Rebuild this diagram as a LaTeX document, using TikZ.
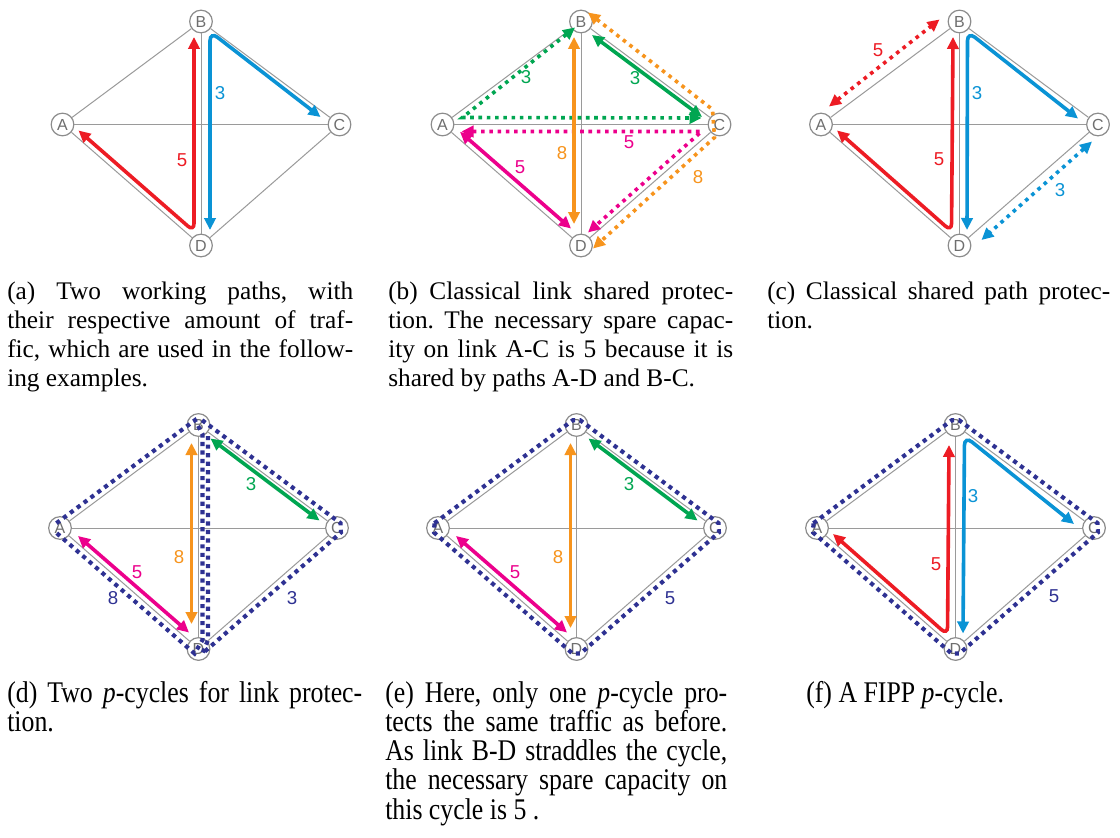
\documentclass[tikz,border=0pt]{standalone}
\usepackage{fontspec}
\setmainfont{Liberation Serif}
\newfontfamily\lsans{Liberation Sans}
\newfontfamily\condserif[FakeStretch=0.86]{Liberation Serif}
\usetikzlibrary{arrows.meta,calc}
\definecolor{edgegray}{HTML}{9A9A9A}
\definecolor{ndgray}{HTML}{8C8C8C}
\definecolor{ltrgray}{HTML}{6E6E6E}
\definecolor{cred}{HTML}{ED1C24}
\definecolor{cblue}{HTML}{0A93D5}
\definecolor{cgreen}{HTML}{00A651}
\definecolor{corange}{HTML}{F7941D}
\definecolor{cmag}{HTML}{EC008C}
\definecolor{cnavy}{HTML}{2E3192}
\tikzset{
 nd/.style={circle,draw=ndgray,fill=white,line width=0.9pt,minimum size=17pt,inner sep=0pt,text=ltrgray,font=\lsans\fontsize{12pt}{12pt}\selectfont},
 edge/.style={draw=edgegray,line width=0.75pt},
 wk/.style={line width=2.7pt},
 dt/.style={line width=2.7pt,dash pattern=on 2.7pt off 3.5pt},
 cyc/.style={draw=cnavy,line width=3.1pt,dash pattern=on 3.1pt off 3.3pt},
 lbl/.style={font=\lsans\fontsize{14pt}{14pt}\selectfont,inner sep=0pt},
 >={Triangle[length=9pt,width=8.5pt]},
 capt/.style={anchor=base west,inner sep=0pt,font=\frenchspacing\fontsize{19pt}{22pt}\selectfont},
 captb/.style={anchor=base west,inner sep=0pt,font=\frenchspacing\condserif\fontsize{22.5pt}{22pt}\selectfont},
}
\newcommand\kitegraph[1]{%
  \node[nd] (A#1) at (0,0) {A};
  \node[nd] (B#1) at (138.5,-103) {B};
  \node[nd] (C#1) at (277,0) {C};
  \node[nd] (D#1) at (138.5,121) {D};
  \draw[edge] (A#1) -- (B#1);
  \draw[edge] (B#1) -- (C#1);
  \draw[edge] (C#1) -- (D#1);
  \draw[edge] (D#1) -- (A#1);
  \draw[edge] (A#1) -- (C#1);
  \draw[edge] (B#1) -- (D#1);
}
\begin{document}
\begin{tikzpicture}[x=0.75pt,y=-0.75pt]
\useasboundingbox[fill=white] (0,0) rectangle (1120,838);

% ---------- (a)
\begin{scope}[shift={(62.5,124.5)}]
\kitegraph{1}
\draw[wk,cred,<->,rounded corners=6pt] ($(B1)+(-7,15.5)$) -- ($(D1)+(-7,-14)$) -- ($(A1)+(16,6)$);
\draw[wk,cblue,<->,rounded corners=7pt] ($(C1)+(-19,-7.5)$) -- ($(B1)+(9,10)$) -- ($(D1)+(9,-15.5)$);
\node[lbl,text=cred] (la1) at (119.5,35.5) {5};
\node[lbl,text=cblue] (lb1) at (157.5,-31.5) {3};
\end{scope}

% ---------- (b)
\begin{scope}[shift={(442.5,124.5)}]
\kitegraph{2}
\draw[wk,cgreen,<->] ($(B2)+(11,13.5)$) -- ($(C2)+(-17.5,-7.5)$);
\draw[dt,cgreen,<->] ($(B2)+(-6,6)$) -- ($(A2)+(20,-7)$) -- ($(C2)+(-18,-6.5)$);
\draw[wk,cmag,<->] ($(A2)+(17.5,7.3)$) -- ($(D2)+(-10,-17)$);
\draw[dt,cmag,<->] ($(A2)+(19,7)$) -- ($(C2)+(-18,7)$) -- ($(D2)+(7,-13)$);
\draw[wk,corange,<->] ($(B2)+(-7,15.5)$) -- ($(D2)+(-7,-21.5)$);
\draw[dt,corange,<->] ($(B2)+(7,-9)$) -- ($(C2)+(-7,-15)$) -- ($(C2)+(-5,13)$) -- ($(D2)+(12,3)$);
\node[lbl,text=cgreen] (lc2) at (83.5,-47.5) {3};
\node[lbl,text=cgreen] (ld2) at (192.5,-46.5) {3};
\node[lbl,text=cmag] (le2) at (77.5,42.5) {5};
\node[lbl,text=cmag] (lf2) at (186.5,17.5) {5};
\node[lbl,text=corange] (lg2) at (119.5,28.5) {8};
\node[lbl,text=corange] (lh2) at (255.5,52.5) {8};
\end{scope}

% ---------- (c)
\begin{scope}[shift={(821,124.5)}]
\kitegraph{3}
\draw[wk,cred,<->,rounded corners=6pt] ($(B3)+(-6.5,15.5)$) -- ($(D3)+(-8,-14)$) -- ($(A3)+(16,6)$);
\draw[wk,cblue,<->,rounded corners=7pt] ($(C3)+(-20,-6)$) -- ($(B3)+(8,10)$) -- ($(D3)+(7.5,-15.5)$);
\draw[dt,cred,<->] ($(A3)+(8,-18)$) -- ($(B3)+(-20,-2)$);
\draw[dt,cblue,<->] ($(C3)+(-6,17)$) -- ($(D3)+(22,-5.5)$);
\node[lbl,text=cred] (la3) at (57,-74.5) {5};
\node[lbl,text=cred] (lb3) at (118,34.5) {5};
\node[lbl,text=cblue] (lc3) at (156,-31.5) {3};
\node[lbl,text=cblue] (ld3) at (239,65.5) {3};
\end{scope}

% ---------- (d)
\begin{scope}[shift={(60,528)}]
\kitegraph{4}
\draw[wk,cgreen,<->] ($(B4)+(12,13.5)$) -- ($(C4)+(-17.5,-7.5)$);
\draw[wk,cmag,<->] ($(A4)+(18,8)$) -- ($(D4)+(-9.5,-16.5)$);
\draw[wk,corange,<->] ($(B4)+(-7,18)$) -- ($(D4)+(-7,-25)$);
\draw[cyc] ($(A4)!4.5pt!90:(B4)$) -- ($(B4)!4.5pt!-90:(A4)$) -- ($(B4)+(4,9)$) -- ($(D4)+(4,-9)$) -- ($(D4)!4.5pt!90:(A4)$) -- ($(A4)!4.5pt!-90:(D4)$);
\draw[cyc] ($(B4)!4.5pt!90:(C4)$) -- ($(C4)!4.5pt!-90:(B4)$) -- ($(C4)!4.5pt!90:(D4)$) -- ($(D4)!4.5pt!-90:(C4)$) -- ($(D4)+(9.5,-9)$) -- ($(B4)+(9.5,9)$);
\node[lbl,text=cgreen] (la4) at (191,-44) {3};
\node[lbl,text=cmag] (lb4) at (77,44) {5};
\node[lbl,text=corange] (lc4) at (119,29) {8};
\node[lbl,text=cnavy] (ld4) at (53,70) {8};
\node[lbl,text=cnavy] (le4) at (232,70) {3};
\end{scope}

% ---------- (e)
\begin{scope}[shift={(438,528)}]
\kitegraph{5}
\draw[wk,cgreen,<->] ($(B5)+(12,13.5)$) -- ($(C5)+(-17.5,-7.5)$);
\draw[wk,cmag,<->] ($(A5)+(18,8)$) -- ($(D5)+(-9.5,-16.5)$);
\draw[wk,corange,<->] ($(B5)+(-6,18)$) -- ($(D5)+(-6,-21)$);
\draw[cyc] ($(A5)!4.5pt!90:(B5)$) -- ($(B5)!4.5pt!-90:(A5)$) -- ($(B5)!4.5pt!90:(C5)$) -- ($(C5)!4.5pt!-90:(B5)$) -- ($(C5)!4.5pt!90:(D5)$) -- ($(D5)!4.5pt!-90:(C5)$) -- ($(D5)!4.5pt!90:(A5)$) -- ($(A5)!4.5pt!-90:(D5)$) -- cycle;
\node[lbl,text=cgreen] (la5) at (191,-44) {3};
\node[lbl,text=cmag] (lb5) at (77,44) {5};
\node[lbl,text=corange] (lc5) at (120,29) {8};
\node[lbl,text=cnavy] (ld5) at (232,70) {5};
\end{scope}

% ---------- (f)
\begin{scope}[shift={(817,528)}]
\kitegraph{6}
\draw[wk,cred,<->,rounded corners=6pt] ($(B6)+(-6.5,20)$) -- ($(D6)+(-8,-14)$) -- ($(A6)+(16,6)$);
\draw[wk,cblue,<->,rounded corners=7pt] ($(C6)+(-20,-4)$) -- ($(B6)+(9,11)$) -- ($(D6)+(7.5,-15.5)$);
\draw[cyc] ($(A6)!4.5pt!90:(B6)$) -- ($(B6)!4.5pt!-90:(A6)$) -- ($(B6)!4.5pt!90:(C6)$) -- ($(C6)!4.5pt!-90:(B6)$) -- ($(C6)!4.5pt!90:(D6)$) -- ($(D6)!4.5pt!-90:(C6)$) -- ($(D6)!4.5pt!90:(A6)$) -- ($(A6)!4.5pt!-90:(D6)$) -- cycle;
\node[lbl,text=cblue] (la6) at (156,-32) {3};
\node[lbl,text=cred] (lb6) at (119,36) {5};
\node[lbl,text=cnavy] (lc6) at (237,68) {5};
\end{scope}

% ---------- captions top
\node[capt] (ca1) at (7,299) {\hbox to 259.5pt{(a) Two working paths, with}};
\node[capt] (ca2) at (7,328.3) {\hbox to 259.5pt{their respective amount of traf-}};
\node[capt] (ca3) at (7,357.6) {\hbox to 259.5pt{fic, which are used in the follow-}};
\node[capt] (ca4) at (7,386.9) {ing examples.};

\node[capt] (cb1) at (388,299) {\hbox to 258.75pt{(b) Classical link shared protec-}};
\node[capt] (cb2) at (388,328.3) {\hbox to 258.75pt{tion. The necessary spare capac-}};
\node[capt] (cb3) at (388,357.6) {\hbox to 258.75pt{ity on link A-C is 5 because it is}};
\node[capt] (cb4) at (388,386.9) {shared by paths A-D and B-C.};

\node[capt] (cc1) at (767,299) {\hbox to 257.25pt{(c) Classical shared path protec-}};
\node[capt] (cc2) at (767,328.3) {tion.};

% ---------- captions bottom
\node[captb] (cd1) at (7,702) {\hbox to 266.25pt{(d) Two \textit{p}-cycles for link protec-}};
\node[captb] (cd2) at (7,731.3) {tion.};

\node[captb] (ce1) at (385,702) {\hbox to 256.5pt{(e) Here, only one \textit{p}-cycle pro-}};
\node[captb] (ce2) at (385,731.3) {\hbox to 256.5pt{tects the same traffic as before.}};
\node[captb] (ce3) at (385,760.6) {\hbox to 256.5pt{As link B-D straddles the cycle,}};
\node[captb] (ce4) at (385,789.9) {\hbox to 256.5pt{the necessary spare capacity on}};
\node[captb] (ce5) at (385,819.2) {this cycle is 5 .};

\node[captb] (cf1) at (806,702) {(f) A FIPP \textit{p}-cycle.};
\end{tikzpicture}
\end{document}
